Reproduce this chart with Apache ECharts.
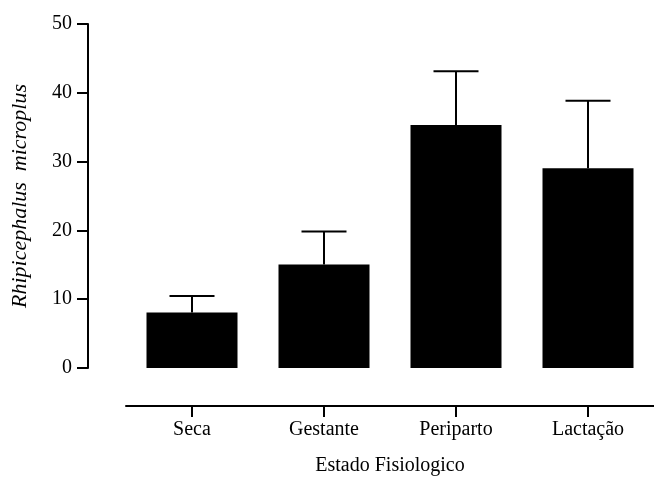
<!DOCTYPE html>
<html>
<head>
<meta charset="utf-8">
<script src="https://cdn.jsdelivr.net/npm/echarts@6/dist/echarts.min.js"></script>
<style>html,body{margin:0;padding:0;background:#fff;}#c{width:654px;height:481px;}</style>
</head>
<body>
<div id="c"></div>
<script>
const categories = ['Seca', 'Gestante', 'Periparto', 'Lactação'];
const means = [8.05, 15.06, 35.33, 29.05];
const upper = [10.47, 19.84, 43.15, 38.85];
const yTicks = [0, 10, 20, 30, 40, 50];

const chart = echarts.init(document.getElementById('c'), null, {renderer: 'canvas'});
const font = 'Liberation Serif';
chart.setOption({
  animation: false,
  backgroundColor: '#fff',
  grid: {left: 126, top: 24, width: 537.6, height: 345.3},
  xAxis: {
    type: 'category',
    data: categories,
    offset: 38,
    name: 'Estado Fisiologico',
    nameLocation: 'middle',
    nameGap: 50,
    nameTextStyle: {fontFamily: font, fontSize: 20, color: '#000'},
    axisLine: {show: true, onZero: false, lineStyle: {color: '#000', width: 2}},
    axisTick: {show: true, alignWithLabel: true, length: 11, lineStyle: {color: '#000', width: 2}},
    axisLabel: {fontFamily: font, fontSize: 20, color: '#000', margin: 14},
    splitLine: {show: false}
  },
  yAxis: {
    type: 'value',
    min: yTicks[0],
    max: yTicks[yTicks.length - 1],
    interval: 10,
    offset: 38,
    name: 'Rhipicephalus  microplus',
    nameLocation: 'middle',
    nameGap: 57,
    nameRotate: 90,
    nameTextStyle: {fontFamily: font, fontSize: 22, fontStyle: 'italic', color: '#000'},
    axisLine: {show: true, onZero: false, lineStyle: {color: '#000', width: 2}},
    axisTick: {show: true, length: 11, lineStyle: {color: '#000', width: 2}},
    axisLabel: {fontFamily: font, fontSize: 20, color: '#000', margin: 16},
    splitLine: {show: false}
  },
  series: [
    {
      type: 'bar',
      data: means,
      barWidth: 91,
      itemStyle: {color: '#000'},
      z: 2
    },
    {
      type: 'custom',
      data: categories.map((c, i) => [i, means[i], upper[i]]),
      renderItem: function (params, api) {
        const lo = api.coord([api.value(0), api.value(1)]);
        const hi = api.coord([api.value(0), api.value(2)]);
        const half = 22.5;
        const style = {stroke: '#000', lineWidth: 2};
        return {
          type: 'group',
          children: [
            {type: 'line', shape: {x1: lo[0], y1: lo[1], x2: hi[0], y2: hi[1]}, style: style},
            {type: 'line', shape: {x1: hi[0] - half, y1: hi[1], x2: hi[0] + half, y2: hi[1]}, style: style}
          ]
        };
      },
      z: 3
    }
  ]
});
</script>
</body>
</html>
